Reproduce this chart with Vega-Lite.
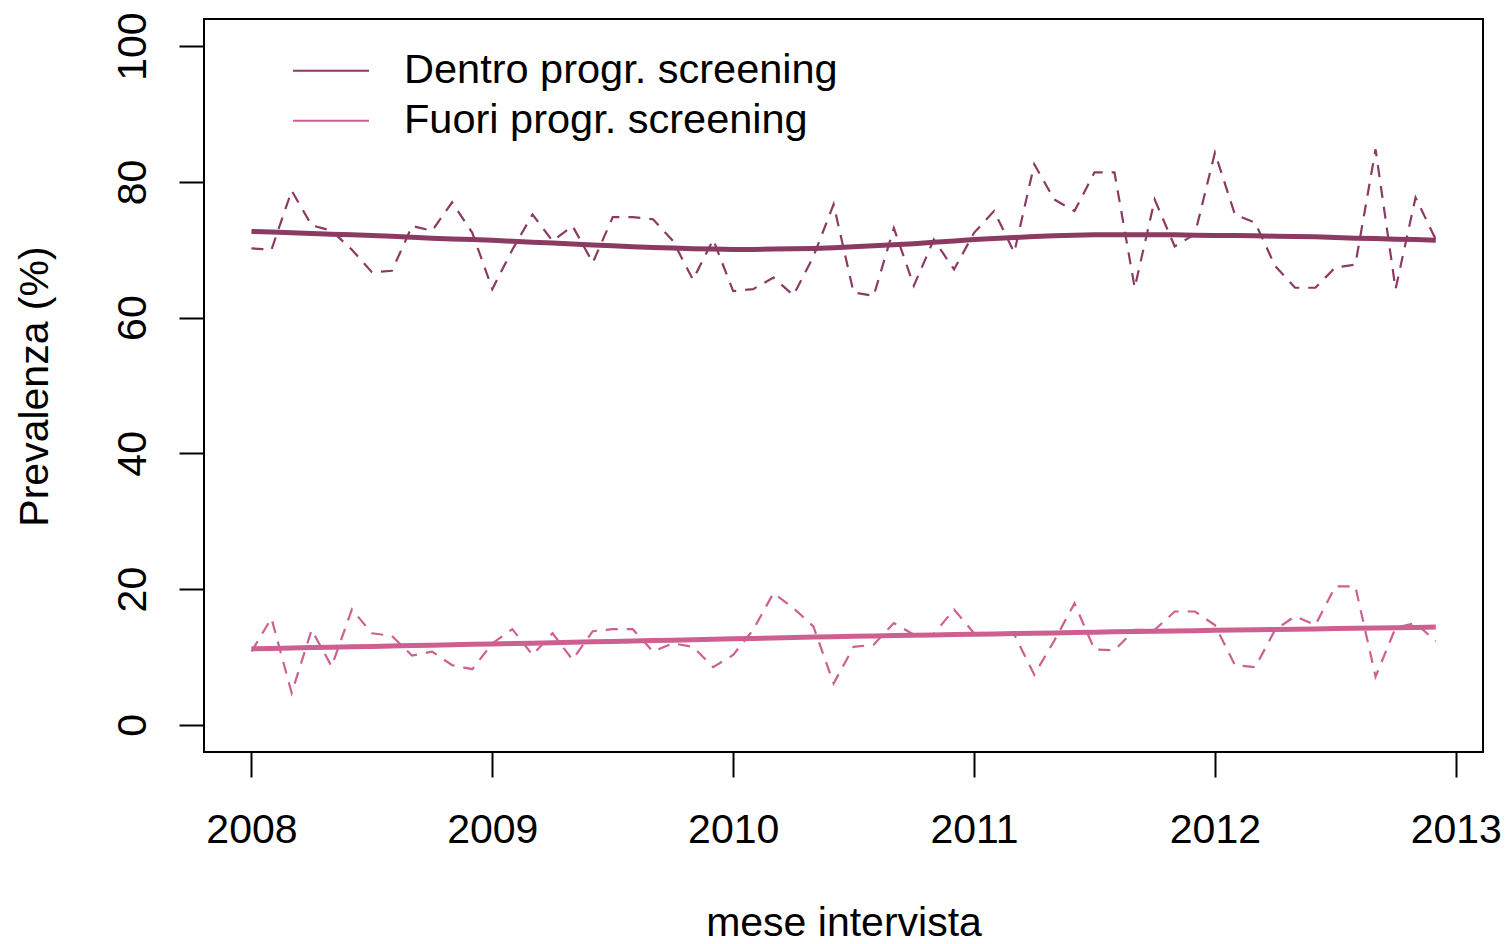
{
  "$schema": "https://vega.github.io/schema/vega-lite/v6.json",
  "width": 1279,
  "height": 733,
  "autosize": {"type": "none"},
  "padding": {"left": 204, "top": 19, "right": 23, "bottom": 192},
  "background": "white",
  "config": {
    "view": {"stroke": "#000", "strokeWidth": 2},
    "font": "Liberation Sans",
    "axis": {
      "labelFont": "Liberation Sans", "titleFont": "Liberation Sans",
      "labelFontSize": 41, "titleFontSize": 41, "titleFontWeight": "normal",
      "labelColor": "#000", "titleColor": "#000", "tickColor": "#000",
      "tickSize": 25, "tickWidth": 2, "domain": false, "grid": false,
      "labelFlush": false, "labelOverlap": false
    },
    "legend": {
      "labelFont": "Liberation Sans", "labelFontSize": 41.5, "labelColor": "#000", "labelLimit": 1000
    }
  },
  "data": {"values": [
    {"t":2008.000,"serie":"Dentro progr. screening","v":70.2,"sm":72.7},
    {"t":2008.083,"serie":"Dentro progr. screening","v":70.0,"sm":72.6},
    {"t":2008.167,"serie":"Dentro progr. screening","v":78.7,"sm":72.5},
    {"t":2008.250,"serie":"Dentro progr. screening","v":73.6,"sm":72.4},
    {"t":2008.333,"serie":"Dentro progr. screening","v":72.8,"sm":72.3},
    {"t":2008.417,"serie":"Dentro progr. screening","v":70.0,"sm":72.2},
    {"t":2008.500,"serie":"Dentro progr. screening","v":66.7,"sm":72.1},
    {"t":2008.583,"serie":"Dentro progr. screening","v":66.9,"sm":72.0},
    {"t":2008.667,"serie":"Dentro progr. screening","v":73.5,"sm":71.85},
    {"t":2008.750,"serie":"Dentro progr. screening","v":72.8,"sm":71.7},
    {"t":2008.833,"serie":"Dentro progr. screening","v":77.0,"sm":71.6},
    {"t":2008.917,"serie":"Dentro progr. screening","v":72.5,"sm":71.5},
    {"t":2009.000,"serie":"Dentro progr. screening","v":64.2,"sm":71.4},
    {"t":2009.083,"serie":"Dentro progr. screening","v":70.0,"sm":71.25},
    {"t":2009.167,"serie":"Dentro progr. screening","v":75.2,"sm":71.1},
    {"t":2009.250,"serie":"Dentro progr. screening","v":71.3,"sm":71.0},
    {"t":2009.333,"serie":"Dentro progr. screening","v":73.5,"sm":70.85},
    {"t":2009.417,"serie":"Dentro progr. screening","v":68.1,"sm":70.7},
    {"t":2009.500,"serie":"Dentro progr. screening","v":74.8,"sm":70.6},
    {"t":2009.583,"serie":"Dentro progr. screening","v":74.8,"sm":70.45},
    {"t":2009.667,"serie":"Dentro progr. screening","v":74.5,"sm":70.35},
    {"t":2009.750,"serie":"Dentro progr. screening","v":71.3,"sm":70.25},
    {"t":2009.833,"serie":"Dentro progr. screening","v":65.6,"sm":70.15},
    {"t":2009.917,"serie":"Dentro progr. screening","v":71.5,"sm":70.1},
    {"t":2010.000,"serie":"Dentro progr. screening","v":63.9,"sm":70.05},
    {"t":2010.083,"serie":"Dentro progr. screening","v":64.2,"sm":70.05},
    {"t":2010.167,"serie":"Dentro progr. screening","v":65.9,"sm":70.1},
    {"t":2010.250,"serie":"Dentro progr. screening","v":63.3,"sm":70.15},
    {"t":2010.333,"serie":"Dentro progr. screening","v":69.0,"sm":70.2},
    {"t":2010.417,"serie":"Dentro progr. screening","v":76.7,"sm":70.3},
    {"t":2010.500,"serie":"Dentro progr. screening","v":63.7,"sm":70.45},
    {"t":2010.583,"serie":"Dentro progr. screening","v":63.2,"sm":70.6},
    {"t":2010.667,"serie":"Dentro progr. screening","v":73.2,"sm":70.75},
    {"t":2010.750,"serie":"Dentro progr. screening","v":64.7,"sm":70.9},
    {"t":2010.833,"serie":"Dentro progr. screening","v":71.5,"sm":71.1},
    {"t":2010.917,"serie":"Dentro progr. screening","v":67.1,"sm":71.3},
    {"t":2011.000,"serie":"Dentro progr. screening","v":72.5,"sm":71.5},
    {"t":2011.083,"serie":"Dentro progr. screening","v":75.7,"sm":71.65},
    {"t":2011.167,"serie":"Dentro progr. screening","v":69.6,"sm":71.8},
    {"t":2011.250,"serie":"Dentro progr. screening","v":82.6,"sm":71.95},
    {"t":2011.333,"serie":"Dentro progr. screening","v":77.4,"sm":72.05},
    {"t":2011.417,"serie":"Dentro progr. screening","v":75.7,"sm":72.15},
    {"t":2011.500,"serie":"Dentro progr. screening","v":81.4,"sm":72.2},
    {"t":2011.583,"serie":"Dentro progr. screening","v":81.4,"sm":72.2},
    {"t":2011.667,"serie":"Dentro progr. screening","v":64.4,"sm":72.2},
    {"t":2011.750,"serie":"Dentro progr. screening","v":77.4,"sm":72.2},
    {"t":2011.833,"serie":"Dentro progr. screening","v":70.5,"sm":72.2},
    {"t":2011.917,"serie":"Dentro progr. screening","v":72.3,"sm":72.15},
    {"t":2012.000,"serie":"Dentro progr. screening","v":84.3,"sm":72.1},
    {"t":2012.083,"serie":"Dentro progr. screening","v":75.2,"sm":72.1},
    {"t":2012.167,"serie":"Dentro progr. screening","v":74.0,"sm":72.05},
    {"t":2012.250,"serie":"Dentro progr. screening","v":67.6,"sm":72.0},
    {"t":2012.333,"serie":"Dentro progr. screening","v":64.4,"sm":71.95},
    {"t":2012.417,"serie":"Dentro progr. screening","v":64.4,"sm":71.9},
    {"t":2012.500,"serie":"Dentro progr. screening","v":67.4,"sm":71.8},
    {"t":2012.583,"serie":"Dentro progr. screening","v":67.8,"sm":71.7},
    {"t":2012.667,"serie":"Dentro progr. screening","v":84.8,"sm":71.65},
    {"t":2012.750,"serie":"Dentro progr. screening","v":64.2,"sm":71.55},
    {"t":2012.833,"serie":"Dentro progr. screening","v":77.7,"sm":71.5},
    {"t":2012.917,"serie":"Dentro progr. screening","v":71.5,"sm":71.4},
    {"t":2008.000,"serie":"Fuori progr. screening","v":10.8,"sm":11.2},
    {"t":2008.083,"serie":"Fuori progr. screening","v":15.7,"sm":11.26},
    {"t":2008.167,"serie":"Fuori progr. screening","v":4.7,"sm":11.32},
    {"t":2008.250,"serie":"Fuori progr. screening","v":14.0,"sm":11.38},
    {"t":2008.333,"serie":"Fuori progr. screening","v":8.6,"sm":11.44},
    {"t":2008.417,"serie":"Fuori progr. screening","v":17.0,"sm":11.5},
    {"t":2008.500,"serie":"Fuori progr. screening","v":13.5,"sm":11.56},
    {"t":2008.583,"serie":"Fuori progr. screening","v":13.1,"sm":11.62},
    {"t":2008.667,"serie":"Fuori progr. screening","v":10.2,"sm":11.68},
    {"t":2008.750,"serie":"Fuori progr. screening","v":10.8,"sm":11.74},
    {"t":2008.833,"serie":"Fuori progr. screening","v":8.8,"sm":11.8},
    {"t":2008.917,"serie":"Fuori progr. screening","v":8.2,"sm":11.86},
    {"t":2009.000,"serie":"Fuori progr. screening","v":12.0,"sm":11.92},
    {"t":2009.083,"serie":"Fuori progr. screening","v":14.1,"sm":11.98},
    {"t":2009.167,"serie":"Fuori progr. screening","v":10.3,"sm":12.04},
    {"t":2009.250,"serie":"Fuori progr. screening","v":13.5,"sm":12.1},
    {"t":2009.333,"serie":"Fuori progr. screening","v":9.6,"sm":12.16},
    {"t":2009.417,"serie":"Fuori progr. screening","v":13.8,"sm":12.23},
    {"t":2009.500,"serie":"Fuori progr. screening","v":14.1,"sm":12.29},
    {"t":2009.583,"serie":"Fuori progr. screening","v":14.1,"sm":12.36},
    {"t":2009.667,"serie":"Fuori progr. screening","v":10.8,"sm":12.42},
    {"t":2009.750,"serie":"Fuori progr. screening","v":12.0,"sm":12.48},
    {"t":2009.833,"serie":"Fuori progr. screening","v":11.5,"sm":12.55},
    {"t":2009.917,"serie":"Fuori progr. screening","v":8.5,"sm":12.61},
    {"t":2010.000,"serie":"Fuori progr. screening","v":10.3,"sm":12.67},
    {"t":2010.083,"serie":"Fuori progr. screening","v":14.0,"sm":12.74},
    {"t":2010.167,"serie":"Fuori progr. screening","v":19.4,"sm":12.8},
    {"t":2010.250,"serie":"Fuori progr. screening","v":17.2,"sm":12.86},
    {"t":2010.333,"serie":"Fuori progr. screening","v":14.5,"sm":12.93},
    {"t":2010.417,"serie":"Fuori progr. screening","v":6.1,"sm":12.99},
    {"t":2010.500,"serie":"Fuori progr. screening","v":11.5,"sm":13.05},
    {"t":2010.583,"serie":"Fuori progr. screening","v":11.8,"sm":13.1},
    {"t":2010.667,"serie":"Fuori progr. screening","v":15.0,"sm":13.15},
    {"t":2010.750,"serie":"Fuori progr. screening","v":13.3,"sm":13.2},
    {"t":2010.833,"serie":"Fuori progr. screening","v":13.4,"sm":13.25},
    {"t":2010.917,"serie":"Fuori progr. screening","v":17.0,"sm":13.3},
    {"t":2011.000,"serie":"Fuori progr. screening","v":13.5,"sm":13.35},
    {"t":2011.083,"serie":"Fuori progr. screening","v":13.5,"sm":13.4},
    {"t":2011.167,"serie":"Fuori progr. screening","v":13.3,"sm":13.45},
    {"t":2011.250,"serie":"Fuori progr. screening","v":7.4,"sm":13.5},
    {"t":2011.333,"serie":"Fuori progr. screening","v":12.4,"sm":13.55},
    {"t":2011.417,"serie":"Fuori progr. screening","v":17.9,"sm":13.6},
    {"t":2011.500,"serie":"Fuori progr. screening","v":11.1,"sm":13.65},
    {"t":2011.583,"serie":"Fuori progr. screening","v":11.0,"sm":13.7},
    {"t":2011.667,"serie":"Fuori progr. screening","v":14.0,"sm":13.75},
    {"t":2011.750,"serie":"Fuori progr. screening","v":14.0,"sm":13.8},
    {"t":2011.833,"serie":"Fuori progr. screening","v":16.7,"sm":13.84},
    {"t":2011.917,"serie":"Fuori progr. screening","v":16.7,"sm":13.88},
    {"t":2012.000,"serie":"Fuori progr. screening","v":14.7,"sm":13.93},
    {"t":2012.083,"serie":"Fuori progr. screening","v":8.8,"sm":13.97},
    {"t":2012.167,"serie":"Fuori progr. screening","v":8.5,"sm":14.01},
    {"t":2012.250,"serie":"Fuori progr. screening","v":14.0,"sm":14.05},
    {"t":2012.333,"serie":"Fuori progr. screening","v":16.0,"sm":14.09},
    {"t":2012.417,"serie":"Fuori progr. screening","v":14.7,"sm":14.14},
    {"t":2012.500,"serie":"Fuori progr. screening","v":20.4,"sm":14.18},
    {"t":2012.583,"serie":"Fuori progr. screening","v":20.4,"sm":14.22},
    {"t":2012.667,"serie":"Fuori progr. screening","v":7.1,"sm":14.26},
    {"t":2012.750,"serie":"Fuori progr. screening","v":14.3,"sm":14.31},
    {"t":2012.833,"serie":"Fuori progr. screening","v":15.0,"sm":14.35},
    {"t":2012.917,"serie":"Fuori progr. screening","v":12.3,"sm":14.4}
  ]},
  "encoding": {
    "x": {
      "field": "t", "type": "quantitative",
      "scale": {"domain": [2007.803, 2013.113], "nice": false, "zero": false},
      "axis": {
        "values": [2008, 2009, 2010, 2011, 2012, 2013], "format": "d",
        "labelPadding": 33,
        "title": "mese intervista",
        "titleX": 639.5, "titleY": 183, "titleAnchor": null,
        "titleAlign": "center", "titleBaseline": "alphabetic"
      }
    },
    "color": {
      "field": "serie", "type": "nominal",
      "scale": {"domain": ["Dentro progr. screening", "Fuori progr. screening"], "range": ["#8B3A62", "#CD6090"]},
      "legend": {
        "title": null, "orient": "none", "legendX": 88, "legendY": 27,
        "symbolType": "stroke", "symbolSize": 5776, "symbolStrokeWidth": 2,
        "symbolDash": [], "clipHeight": 49.6,
        "labelOffset": 34, "rowPadding": 0, "padding": 0
      }
    }
  },
  "layer": [
    {
      "mark": {"type": "line", "strokeWidth": 2.2, "strokeDash": [12, 9]},
      "encoding": {
        "y": {
          "field": "v", "type": "quantitative",
          "scale": {"domain": [-4, 104], "nice": false, "zero": false},
          "axis": {
            "values": [0, 20, 40, 60, 80, 100],
            "labelAngle": -90, "labelAlign": "center", "labelBaseline": "alphabetic",
            "labelPadding": 34,
            "title": "Prevalenza (%)",
            "titleAngle": -90, "titleX": -157, "titleY": 367,
            "titleAlign": "center", "titleBaseline": "alphabetic"
          }
        }
      }
    },
    {
      "mark": {"type": "line", "strokeWidth": 5},
      "encoding": {
        "y": {"field": "sm", "type": "quantitative"}
      }
    }
  ]
}
